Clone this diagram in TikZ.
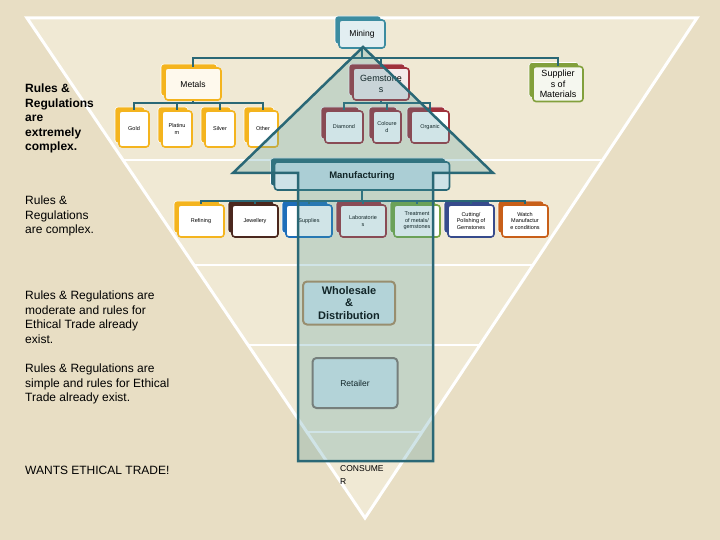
\documentclass[tikz,border=0pt]{standalone}
\usepackage{fontspec}
\setmainfont{Liberation Sans}
\usetikzlibrary{arrows.meta,calc,positioning,shadows}

\definecolor{bgbeige}{RGB}{232,222,196}
\definecolor{innerbeige}{RGB}{240,233,212}
\definecolor{tealline}{RGB}{42,104,118}
\definecolor{tealfill}{RGB}{70,150,160}
\definecolor{minecol}{RGB}{60,140,160}
\definecolor{metalcol}{RGB}{244,180,30}
\definecolor{gemcol}{RGB}{160,50,60}
\definecolor{supcol}{RGB}{130,160,60}
\definecolor{jewelcol}{RGB}{75,40,30}
\definecolor{supplycol}{RGB}{30,110,185}
\definecolor{treatcol}{RGB}{120,165,65}
\definecolor{cutcol}{RGB}{55,75,140}
\definecolor{watchcol}{RGB}{200,95,25}
\definecolor{wholecol}{RGB}{180,140,95}
\definecolor{retailcol}{RGB}{135,120,112}

\tikzset{
  box/.style={draw=#1, line width=1.6pt, rounded corners=3pt, fill=white,
    align=center, inner sep=1pt,
    general shadow={fill=#1, draw=white, line width=0.6pt,
      shadow xshift=-4pt, shadow yshift=4pt}},
  small/.style={font=\fontsize{5.5}{6.5}\selectfont},
  link/.style={draw=tealline, line width=1.8pt},
  band/.style={draw=white, line width=2pt},
  rule/.style={anchor=north west, align=left, inner sep=0pt,
    font=\fontsize{12}{14.5}\selectfont},
}

\begin{document}
\begin{tikzpicture}[x=1pt,y=-1pt,node distance=43pt]
    \useasboundingbox (0,0) rectangle (720,540);
    \fill[bgbeige] (0,0) rectangle (720,540);

    % big funnel
    \coordinate (TL) at (27,18);
    \coordinate (TR) at (697,18);
    \coordinate (Bot) at (365,518);
    \draw[white, line width=3pt, fill=innerbeige] (TL) -- (TR) -- (Bot) -- cycle;
    \foreach \yy in {160,265,345,432}
      \draw[band] ($(TL)!{(\yy-18)/500}!(Bot)$) -- ($(TR)!{(\yy-18)/500}!(Bot)$);

    % mining level
    \node[box=minecol, fill=white!85!minecol, minimum width=46pt, minimum height=28pt,
      font=\fontsize{8.5}{10}\selectfont] (Mining) at (362,34) {Mining};

    \node[box=metalcol, fill=white!92!metalcol, minimum width=56pt, minimum height=32pt,
      font=\fontsize{8.5}{10}\selectfont] (Metals) at (193,84) {Metals};
    \node[box=gemcol, fill=white!90!gemcol, minimum width=56pt, minimum height=32pt,
      font=\fontsize{9}{10.5}\selectfont] (Gems) at (381,84) {Gemstone\\s};
    \node[box=supcol, fill=white!92!supcol, minimum width=50pt, minimum height=35pt,
      font=\fontsize{9}{10.5}\selectfont] (Supp) at (558,84) {Supplier\\s of\\Materials};

    \node[box=metalcol, small, minimum width=30pt, minimum height=36pt] (Gold) at (134,129) {Gold};
    \node[box=metalcol, small, minimum width=30pt, minimum height=36pt, right of=Gold] (Plat) {Platinu\\m};
    \node[box=metalcol, small, minimum width=30pt, minimum height=36pt, right of=Plat] (Silver) {Silver};
    \node[box=metalcol, small, minimum width=30pt, minimum height=36pt, right of=Silver] (Other) {Other};

    \node[box=gemcol, small, minimum width=38pt, minimum height=32pt] (Diamond) at (344,127) {Diamond};
    \node[box=gemcol, small, minimum width=28pt, minimum height=32pt, right of=Diamond] (Colour) {Coloure\\d};
    \node[box=gemcol, small, minimum width=38pt, minimum height=32pt, right of=Colour] (Organic) {Organic};

    \coordinate (mbus) at (362,58);
    \coordinate (metbus) at (193,103);
    \coordinate (gembus) at (381,103);
    \draw[link] (Mining) -- (mbus);
    \foreach \n in {Metals,Gems,Supp}
      \draw[link] (mbus) -| (\n);
    \draw[link] (Metals) -- (metbus);
    \foreach \n in {Gold,Plat,Silver,Other}
      \draw[link] (metbus) -| (\n);
    \draw[link] (Gems) -- (gembus);
    \foreach \n in {Diamond,Colour,Organic}
      \draw[link] (gembus) -| (\n);

    % manufacturing level
    \node[box=tealline, fill=white!75!minecol, minimum width=175pt, minimum height=28pt,
      font=\bfseries\fontsize{9.5}{11}\selectfont] (Manuf) at (362,176) {Manufacturing};

    \node[box=metalcol, small, minimum width=46pt, minimum height=32pt] (Refining) at (201,221) {Refining};
    \node[box=jewelcol, small, minimum width=46pt, minimum height=32pt, right of=Refining, node distance=54pt] (Jewel) {Jewellery};
    \node[box=supplycol, small, minimum width=46pt, minimum height=32pt, right of=Jewel, node distance=54pt] (Supplies) {Supplies};
    \node[box=gemcol, small, minimum width=46pt, minimum height=32pt, right of=Supplies, node distance=54pt] (Labs) {Laboratorie\\s};
    \node[box=treatcol, small, minimum width=46pt, minimum height=32pt, right of=Labs, node distance=54pt] (Treat) {Treatment\\of metals/\\gemstones};
    \node[box=cutcol, small, minimum width=46pt, minimum height=32pt, right of=Treat, node distance=54pt] (Cutting) {Cutting/\\Polishing of\\Gemstones};
    \node[box=watchcol, small, minimum width=46pt, minimum height=32pt, right of=Cutting, node distance=54pt] (Watch) {Watch\\Manufactur\\e conditions};

    \coordinate (fbus) at (362,201);
    \draw[link] (Manuf) -- (fbus);
    \foreach \n in {Refining,Jewel,Supplies,Labs,Treat,Cutting,Watch}
      \draw[link] (fbus) -| (\n);

    % lower levels
    \node[draw=wholecol, line width=2pt, rounded corners=4pt, fill=white!80!minecol,
      minimum width=92pt, minimum height=43pt, align=center,
      font=\bfseries\fontsize{11}{12.5}\selectfont] (Whole) at (349,303) {Wholesale\\\&\\Distribution};
    \node[draw=retailcol, line width=2pt, rounded corners=4pt, fill=white!80!minecol,
      minimum width=85pt, minimum height=50pt,
      font=\fontsize{8.5}{10}\selectfont] (Retail) at (355,383) {Retailer};
    \node[anchor=north west, align=left, inner sep=0pt,
      font=\fontsize{8.5}{13}\selectfont] (Consumer) at (340,465) {CONSUME\\R};

    % arrow up through the funnel
    \draw[tealline, line width=2.5pt, fill=tealfill, fill opacity=0.25, line join=miter]
      (363,47) -- (493,173) -- (433,173) -- (433,461) -- (298,461) -- (298,173)
      -- (233,173) -- cycle;

    % rules on the left
    \node[rule, font=\bfseries\fontsize{12}{14.5}\selectfont] (R1) at (25,84)
      {Rules \&\\Regulations\\are\\extremely\\complex.};
    \node[rule] (R2) at (25,196) {Rules \&\\Regulations\\are complex.};
    \node[rule] (R3) at (25,291) {Rules \& Regulations are\\moderate and rules for\\Ethical Trade already\\exist.};
    \node[rule] (R4) at (25,364) {Rules \& Regulations are\\simple and rules for Ethical\\Trade already exist.};
    \node[rule] (R5) at (25,466) {WANTS ETHICAL TRADE!};
  \end{tikzpicture}
\end{document}
